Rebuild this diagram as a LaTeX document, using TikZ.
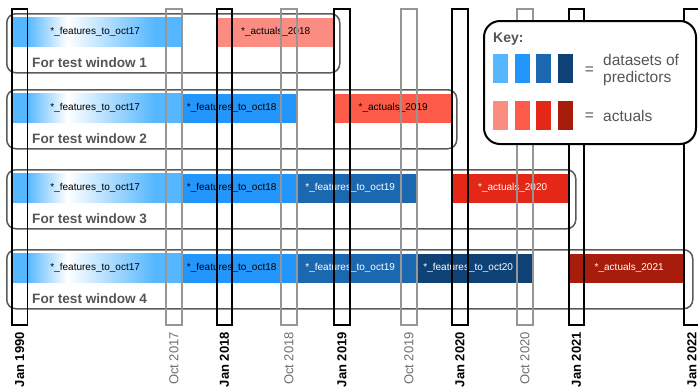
\documentclass[tikz,border=0pt]{standalone}
\usepackage{fontspec}
\setmainfont{Liberation Sans}
\definecolor{pA}{RGB}{85,183,255}
\definecolor{pB}{RGB}{34,150,250}
\definecolor{pC}{RGB}{27,104,176}
\definecolor{pD}{RGB}{14,65,117}
\definecolor{aA}{RGB}{251,140,130}
\definecolor{aB}{RGB}{251,91,72}
\definecolor{aC}{RGB}{229,39,24}
\definecolor{aD}{RGB}{168,28,11}
\definecolor{txtgray}{RGB}{85,85,85}
\definecolor{octgray}{RGB}{110,110,110}
\definecolor{colgray}{RGB}{150,150,150}
\definecolor{boxgray}{RGB}{90,90,90}
\pgfdeclarehorizontalshading{featgrad}{100bp}{color(0bp)=(pA); color(25bp)=(pA); color(29.4bp)=(pA); color(41.2bp)=(white); color(67bp)=(pA); color(100bp)=(pA)}
\begin{document}
\begin{tikzpicture}[x=1pt,y=-1pt,
  rowbox/.style={draw=boxgray,line width=1.5pt,rounded corners=9pt,minimum height=59pt,inner sep=0pt,anchor=north west},
  bar/.style={minimum height=29pt,inner sep=0pt,anchor=north west,draw=none},
  bartxt/.style={font=\fontsize{10}{12}\selectfont,inner sep=0pt},
  wintxt/.style={font=\fontsize{13.6}{16}\selectfont\bfseries,text=txtgray,anchor=base west,inner sep=0pt},
  jancol/.style={draw=black,line width=1.8pt,minimum width=15.5pt,minimum height=316pt,inner sep=0pt,anchor=north},
  octcol/.style={draw=colgray,line width=1.8pt,minimum width=15.5pt,minimum height=316pt,inner sep=0pt,anchor=north},
  janlab/.style={rotate=90,anchor=east,font=\fontsize{13}{15}\selectfont\bfseries,text=black,inner sep=0pt},
  octlab/.style={rotate=90,anchor=east,font=\fontsize{13}{15}\selectfont,text=octgray,inner sep=0pt},
  swatch/.style={minimum width=15pt,minimum height=29pt,inner sep=0pt,anchor=north west},
  keytxt/.style={font=\fontsize{15.5}{18}\selectfont,text=txtgray,inner sep=0pt}
]
\useasboundingbox (0,0) rectangle (698,386);

% row boxes
\node[rowbox,minimum width=333pt] (r1) at (6,13) {};
\node[rowbox,minimum width=450pt] (r2) at (6,89) {};
\node[rowbox,minimum width=569pt] (r3) at (6,169) {};
\node[rowbox,minimum width=686pt] (r4) at (6,249) {};

% row 1
\node[bar,shading=featgrad,minimum width=170pt] (b1a) at (12,17.5) {};
\node[bartxt] (t1a) at ([xshift=-2pt]b1a.center) {*\_features\_to\_oct17};
\node[bar,fill=aA,minimum width=117pt] (b1b) at (217,17.5) {};
\node[bartxt] (t1b) at (b1b.center) {*\_actuals\_2018};
\node[wintxt] (w1) at (32,67) {For test window 1};

% row 2
\node[bar,shading=featgrad,minimum width=170pt] (b2a) at (12,93.5) {};
\node[bartxt] (t2a) at ([xshift=-2pt]b2a.center) {*\_features\_to\_oct17};
\node[bar,fill=pB,minimum width=115pt] (b2b) at (182,93.5) {};
\node[bartxt] (t2b) at ([xshift=-8pt]b2b.center) {*\_features\_to\_oct18};
\node[bar,fill=aB,minimum width=118pt] (b2c) at (334,93.5) {};
\node[bartxt] (t2c) at (b2c.center) {*\_actuals\_2019};
\node[wintxt] (w2) at (32,143) {For test window 2};

% row 3
\node[bar,shading=featgrad,minimum width=170pt] (b3a) at (12,173.5) {};
\node[bartxt] (t3a) at ([xshift=-2pt]b3a.center) {*\_features\_to\_oct17};
\node[bar,fill=pB,minimum width=115pt] (b3b) at (182,173.5) {};
\node[bartxt] (t3b) at ([xshift=-8pt]b3b.center) {*\_features\_to\_oct18};
\node[bar,fill=pC,minimum width=120pt] (b3c) at (297,173.5) {};
\node[bartxt,text=white] (t3c) at ([xshift=-7pt]b3c.center) {*\_features\_to\_oct19};
\node[bar,fill=aC,minimum width=117pt] (b3d) at (452,173.5) {};
\node[bartxt,text=white] (t3d) at ([xshift=2pt]b3d.center) {*\_actuals\_2020};
\node[wintxt] (w3) at (32,223) {For test window 3};

% row 4
\node[bar,shading=featgrad,minimum width=170pt] (b4a) at (12,253.5) {};
\node[bartxt] (t4a) at ([xshift=-2pt]b4a.center) {*\_features\_to\_oct17};
\node[bar,fill=pB,minimum width=115pt] (b4b) at (182,253.5) {};
\node[bartxt] (t4b) at ([xshift=-8pt]b4b.center) {*\_features\_to\_oct18};
\node[bar,fill=pC,minimum width=120pt] (b4c) at (297,253.5) {};
\node[bartxt,text=white] (t4c) at ([xshift=-7pt]b4c.center) {*\_features\_to\_oct19};
\node[bar,fill=pD,minimum width=116pt] (b4d) at (417,253.5) {};
\node[bartxt,text=white] (t4d) at ([xshift=-7pt]b4d.center) {*\_features\_to\_oct20};
\node[bar,fill=aD,minimum width=114pt] (b4e) at (569,253.5) {};
\node[bartxt,text=white] (t4e) at ([xshift=3pt]b4e.center) {*\_actuals\_2021};
\node[wintxt] (w4) at (32,303) {For test window 4};

% time columns
\node[jancol] (c1) at (19.75,8) {};
\node[octcol] (c2) at (174,8) {};
\node[jancol] (c3) at (224.5,8) {};
\node[octcol] (c4) at (289,8) {};
\node[jancol] (c5) at (342,8) {};
\node[octcol] (c6) at (409,8) {};
\node[jancol] (c7) at (460,8) {};
\node[octcol] (c8) at (525,8) {};
\node[jancol] (c9) at (576.5,8) {};
\node[jancol] (c10) at (692,8) {};

% column labels
\node[janlab] (l1) at (19.75,332) {Jan 1990};
\node[octlab] (l2) at (174,332) {Oct 2017};
\node[janlab] (l3) at (224.5,332) {Jan 2018};
\node[octlab] (l4) at (289,332) {Oct 2018};
\node[janlab] (l5) at (342,332) {Jan 2019};
\node[octlab] (l6) at (409,332) {Oct 2019};
\node[janlab] (l7) at (460,332) {Jan 2020};
\node[octlab] (l8) at (525,332) {Oct 2020};
\node[janlab] (l9) at (576.5,332) {Jan 2021};
\node[janlab] (l10) at (692,332) {Jan 2022};

% key
\node[draw=black,line width=2pt,fill=white,rounded corners=16pt,minimum width=212pt,minimum height=123pt,inner sep=0pt,anchor=north west] (key) at (483,20) {};
\node[font=\fontsize{14}{16}\selectfont\bfseries,text=txtgray,anchor=base west,inner sep=0pt] (keyt) at (493,42) {Key:};
\node[swatch,fill=pA] (s1) at (493,53.5) {};
\node[swatch,fill=pB] (s2) at (514.5,53.5) {};
\node[swatch,fill=pC] (s3) at (536,53.5) {};
\node[swatch,fill=pD] (s4) at (558,53.5) {};
\node[swatch,fill=aA] (s5) at (493,101) {};
\node[swatch,fill=aB] (s6) at (514.5,101) {};
\node[swatch,fill=aC] (s7) at (536,101) {};
\node[swatch,fill=aD] (s8) at (558,101) {};
\node[keytxt] (eq1) at (589.5,70.5) {=};
\node[keytxt] (eq2) at (589.5,116.5) {=};
\node[keytxt,anchor=base west] (k1) at (603,65) {datasets of};
\node[keytxt,anchor=base west] (k2) at (603,82) {predictors};
\node[keytxt,anchor=base west] (k3) at (603,121) {actuals};
\end{tikzpicture}
\end{document}
